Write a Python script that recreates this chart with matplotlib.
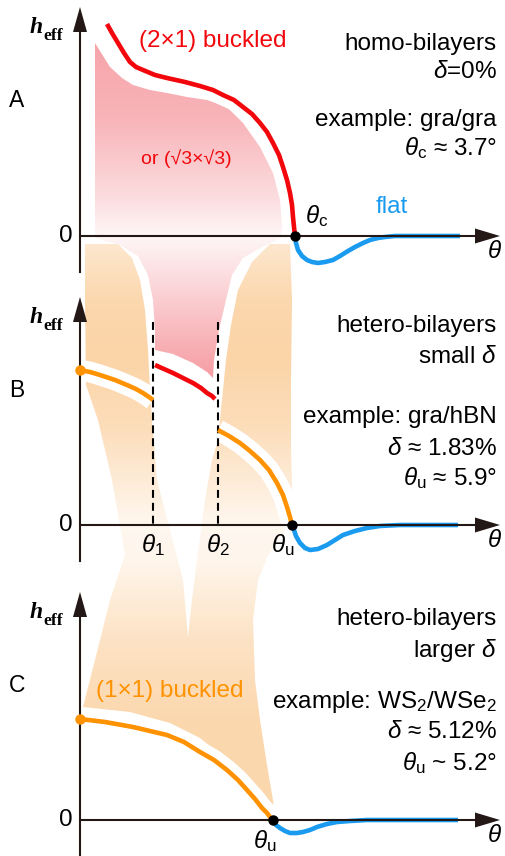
import numpy as np
import matplotlib
matplotlib.use("Agg")
import matplotlib.pyplot as plt
from matplotlib.patches import Polygon

plt.rcParams['font.family'] = ['Liberation Sans', 'DejaVu Sans']
plt.rcParams['mathtext.fontset'] = 'custom'
plt.rcParams['mathtext.rm'] = 'Liberation Sans'
plt.rcParams['mathtext.it'] = 'Liberation Sans:italic'

RED = '#f2070c'
ORANGE = '#ff9200'
BLUE = '#1a9bef'
INK = '#231815'
PINK_FILL = (0.94, 0.35, 0.39)
PEACH_FILL = (0.97, 0.63, 0.24)
FS = 17.5

# whole figure is one axes in pixel units (y down)
W, H = 506, 856

# panel origins: y-axis x position, zero line y, arrow tip y
axis_x = 80
zero_y = [236, 525, 820]
tip_y = [7, 297, 592]
axis_bottom = [272, 561, 856]
panel_letters = ['A', 'B', 'C']

# curves (pixels)
red_a_x = [107, 112, 118, 124, 130, 136, 143, 155, 167, 185, 200, 213, 223, 234, 243, 252, 260, 267, 273, 279, 283, 287, 290, 292, 293, 294, 295]
red_a_y = [24, 33, 43, 53, 62, 67, 70, 75, 78, 82, 86, 90, 95, 100, 107, 114, 123, 132, 143, 155, 167, 180, 193, 205, 217, 227, 236]
blue_a_x = [295, 296, 298, 302, 307, 312, 318, 325, 333, 340, 348, 355, 363, 370, 378, 385, 395, 410, 460]
blue_a_y = [236, 243, 250, 256, 260, 262, 263, 262, 260, 256, 251, 247, 243, 240, 238, 237, 236, 236, 236]

orange_b1_x = [80, 90, 100, 115, 127, 136, 143, 149, 153]
orange_b1_y = [370, 372, 375, 380, 385, 389, 393, 397, 400]
red_b_x = [155, 164, 173, 183, 193, 201, 207, 212, 215]
red_b_y = [365, 369, 373, 378, 383, 388, 393, 396, 399]
orange_b2_x = [218, 229, 240, 250, 260, 269, 277, 283, 287, 290, 292]
orange_b2_y = [430, 436, 443, 451, 460, 470, 483, 495, 507, 517, 525]
blue_b_x = [292, 294, 296, 300, 305, 310, 318, 327, 335, 343, 355, 367, 380, 400, 458]
blue_b_y = [525, 530, 536, 543, 548, 550, 549, 545, 540, 535, 531, 528, 526, 525, 525]

orange_c_x = [80, 105, 133, 150, 167, 184, 200, 214, 227, 238, 247, 255, 262, 267, 270, 273]
orange_c_y = [719, 722, 727, 731, 735, 742, 752, 760, 770, 780, 790, 799, 808, 813, 817, 820]
blue_c_x = [273, 276, 280, 285, 290, 297, 303, 310, 317, 327, 337, 350, 367, 458]
blue_c_y = [820, 825, 828, 831, 833, 833, 832, 830, 827, 824, 822, 821, 820, 820]

# transition points
theta_c = 295
theta_1 = 153
theta_2 = 218
theta_u_b = 292
theta_u_c = 273

# shaded regions (outlines)
pink_x = [95, 110, 122, 133, 150, 167, 187, 207, 227, 243, 260, 273, 280, 282, 281,
          262, 243, 232, 226, 219, 214, 213, 207, 193, 173, 155,
          155, 153, 148, 138, 120, 95]
pink_y = [43, 67, 78, 85, 90, 93, 97, 100, 107, 123, 147, 173, 200, 225, 238,
          247, 258, 275, 300, 330, 360, 378, 372, 363, 354, 350,
          330, 300, 275, 256, 245, 238]

peach_x = [85, 118, 132, 140, 145, 148, 150, 152, 157, 170, 183, 188,
           192, 197, 205, 212, 218, 222, 226, 231, 238, 252, 270,
           290, 292, 291, 291, 293, 282, 268, 258, 253, 255, 260, 267, 274,
           255, 230, 200, 170, 130, 83,
           95, 110, 125, 112, 98, 86, 85]
peach_y = [244, 244, 258, 280, 310, 350, 390, 420, 480, 530, 580, 637,
           600, 560, 500, 460, 440, 400, 360, 325, 290, 262, 244,
           244, 300, 380, 450, 515, 535, 555, 580, 620, 680, 720, 765, 806,
           790, 762, 738, 723, 712, 707,
           660, 600, 555, 480, 420, 385, 300]
pink_stops_y = [40, 120, 200, 236, 262, 320, 380]
pink_stops_a = [0.55, 0.45, 0.2, 0.05, 0.15, 0.38, 0.6]
peach_stops_y = [244, 300, 360, 430, 525, 560, 640, 720, 810]
peach_stops_a = [0.25, 0.42, 0.45, 0.35, 0.08, 0.1, 0.3, 0.42, 0.42]

# right-hand notes: (text, baseline y)
notes_a = [('homo-bilayers', 50), (r'$\delta$=0%', 78),
           ('example: gra/gra', 126), (r'$\theta_\mathrm{c}$ ≈ 3.7°', 155)]
notes_b = [('hetero-bilayers', 332), (r'small $\delta$', 363),
           ('example: gra/hBN', 423), (r'$\delta$ ≈ 1.83%', 455),
           (r'$\theta_\mathrm{u}$ ≈ 5.9°', 485)]
notes_c = [('hetero-bilayers', 625), (r'larger $\delta$', 657),
           (r'example: WS$_2$/WSe$_2$', 708), (r'$\delta$ ≈ 5.12%', 738),
           (r'$\theta_\mathrm{u}$ ~ 5.2°', 770)]


fig = plt.figure(figsize=(W / 100, H / 100), dpi=100)
ax = fig.add_axes([0, 0, 1, 1])
ax.axis('off')


def shade(xs, ys, color, sy, sa):
    poly = Polygon(np.column_stack([xs, ys]), closed=True, fc='none', ec='none')
    ax.add_patch(poly)
    rows = np.arange(H) + 0.5
    a = np.interp(rows, sy, sa)[:, None]
    img = (1 - a) + a * np.array(color)[None, :]
    im = ax.imshow(img[:, None, :], extent=(0, W, H, 0), aspect='auto',
                   interpolation='bilinear', zorder=1)
    im.set_clip_path(poly)


shade(pink_x, pink_y, PINK_FILL, pink_stops_y, pink_stops_a)
shade(peach_x, peach_y, PEACH_FILL, peach_stops_y, peach_stops_a)


def curve(xs, ys, color, halo=True):
    if halo:
        ax.plot(xs, ys, color='white', lw=15, solid_capstyle='butt', zorder=3)
    ax.plot(xs, ys, color=color, lw=3.3, solid_capstyle='butt',
            solid_joinstyle='round', zorder=4)


curve(red_a_x, red_a_y, RED)
curve(blue_a_x, blue_a_y, BLUE, halo=False)
curve(orange_b1_x, orange_b1_y, ORANGE)
curve(red_b_x, red_b_y, RED)
curve(orange_b2_x, orange_b2_y, ORANGE)
curve(blue_b_x, blue_b_y, BLUE, halo=False)
curve(orange_c_x, orange_c_y, ORANGE)
curve(blue_c_x, blue_c_y, BLUE, halo=False)

# dashed guides at theta_1, theta_2
for xv in [theta_1, theta_2]:
    ax.plot([xv, xv], [tip_y[1] + 25, zero_y[1]], color='black', lw=1.5,
            dashes=(3.8, 2.4), zorder=3.5)

# axes with arrow heads
for i in range(3):
    y0 = zero_y[i]
    ax.plot([axis_x, axis_x], [tip_y[i] + 22, axis_bottom[i]], color=INK, lw=1.5, zorder=5)
    ax.add_patch(Polygon([[axis_x, tip_y[i]], [axis_x - 7, tip_y[i] + 25],
                          [axis_x + 7, tip_y[i] + 25]], closed=True, fc=INK, ec='none', zorder=5))
    ax.plot([axis_x, 478], [y0, y0], color=INK, lw=1.5, zorder=5)
    ax.add_patch(Polygon([[500, y0], [475, y0 - 7.5], [475, y0 + 7.5]],
                         closed=True, fc=INK, ec='none', zorder=5))
    ax.text(66, y0, '0', fontsize=FS, ha='center', va='center', color='black')
    ax.text(494, y0 + 22, r'$\theta$', fontsize=FS, ha='center', va='baseline')
    ax.text(17, (zero_y[i] + tip_y[i]) / 2 - 21, panel_letters[i], fontsize=16.5,
            ha='center', va='center')
    ax.text(30, tip_y[i] + 26, 'h', fontsize=17, family='Liberation Serif',
            weight='bold', style='italic', va='baseline')
    ax.text(43.5, tip_y[i] + 33, 'eff', fontsize=12.5, family='Liberation Serif',
            weight='bold', va='baseline')

# transition dots
ax.plot([theta_c, theta_u_b, theta_u_c], [zero_y[0], zero_y[1], zero_y[2]], 'o',
        color='black', ms=6.5, zorder=6)
ax.plot([axis_x, axis_x], [orange_b1_y[0], orange_c_y[0]], 'o', color=ORANGE,
        ms=6.5, zorder=6)

# theta labels
ax.text(theta_c + 10, zero_y[0] - 13, r'$\theta_\mathrm{c}$', fontsize=FS, va='baseline')
ax.text(theta_1, zero_y[1] + 27, r'$\theta_1$', fontsize=FS, ha='center', va='baseline')
ax.text(theta_2, zero_y[1] + 27, r'$\theta_2$', fontsize=FS, ha='center', va='baseline')
ax.text(theta_u_b - 9, zero_y[1] + 27, r'$\theta_\mathrm{u}$', fontsize=FS, ha='center', va='baseline')
ax.text(theta_u_c - 8, zero_y[2] + 28, r'$\theta_\mathrm{u}$', fontsize=FS, ha='center', va='baseline')

# phase names
ax.text(213, 47, '(2×1) buckled', fontsize=FS, color=RED, ha='center', va='baseline')
ax.text(186, 164, 'or (√3×√3)', fontsize=14, color=RED, ha='center', va='baseline')
ax.text(392, 213, 'flat', fontsize=FS, color=BLUE, ha='center', va='baseline')
ax.text(170, 697, '(1×1) buckled', fontsize=FS, color=ORANGE, ha='center', va='baseline')

for notes in [notes_a, notes_b, notes_c]:
    for s, yb in notes:
        ax.text(497, yb, s, fontsize=FS, ha='right', va='baseline')

ax.set_xlim(0, W)
ax.set_ylim(H, 0)
fig.savefig('out.png', dpi=100)
